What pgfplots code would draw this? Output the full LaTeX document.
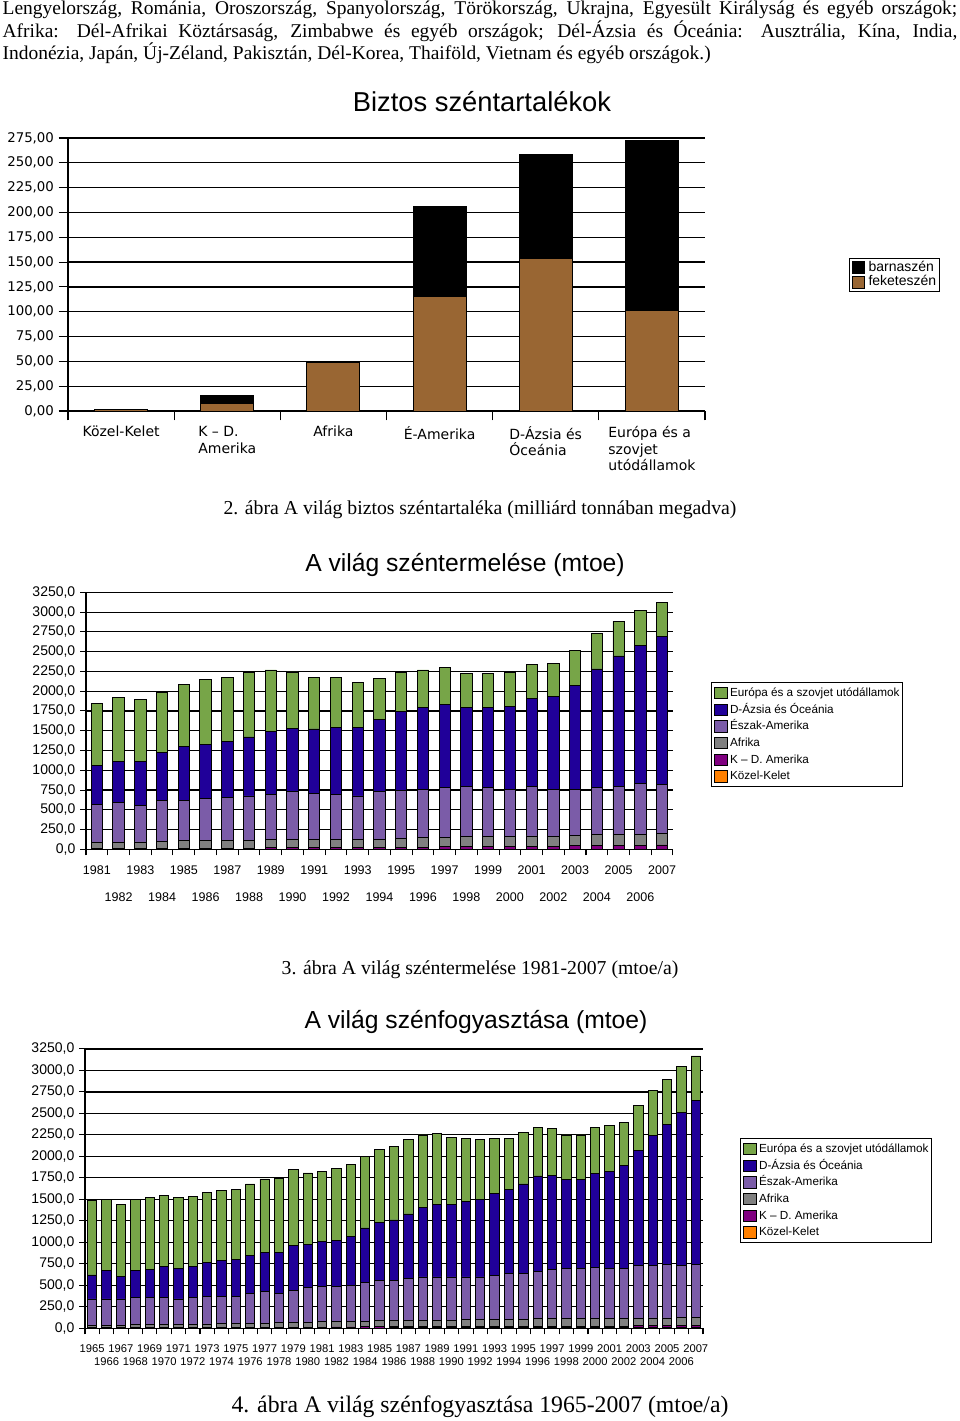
\documentclass[border=0pt]{standalone}
\usepackage{fontspec}
\setmainfont{Liberation Serif}
\newfontfamily\arial{Liberation Sans}
\newfontfamily\verd{DejaVu Sans}
\usepackage{pgfplots}
\usepackage{pgfplotstable}
\pgfplotsset{compat=1.18}
\pgfplotsset{/pgf/number format/assume math mode=true, /pgf/number format/1000 sep={}}
\definecolor{ceu}{RGB}{119,165,72}
\definecolor{cap}{RGB}{32,0,153}
\definecolor{cna}{RGB}{123,92,168}
\definecolor{caf}{RGB}{128,128,128}
\definecolor{ckd}{RGB}{128,0,128}
\definecolor{ckk}{RGB}{255,128,0}
\definecolor{cbrown}{RGB}{153,102,51}
\newcommand\loB[1]{\raisebox{-20.25pt}[\height][\depth]{#1}}
\newcommand\loC[1]{\raisebox{-9.75pt}[\height][\depth]{#1}}
\pgfplotsset{
  sqleg/.style={legend image code/.code={\draw[##1,draw=black,line width=0.5pt] (0pt,-4.25pt) rectangle (9.5pt,4.25pt);}},
  sqlegA/.style={legend image code/.code={\draw[##1,draw=black,line width=0.5pt] (0pt,-4.5pt) rectangle (9pt,4.5pt);}},
}

\pgfplotstableread{
idx fekete barna
0 1.4 0
1 7.2 8.6
2 48.5 0.5
3 115 91
4 153.5 104.5
5 101.6 171
}\tabres

\pgfplotstableread{
year KK KD AF NA AP EU
1981 1 8 72 488 493 780
1982 1 8 77 504 515 813
1983 1 9 83 459 553 792
1984 1 10 90 523 599 759
1985 1 12 99 512 675 788
1986 1 13 100 527 691 814
1987 1 14 100 538 713 809
1988 1 15 101 558 746 813
1989 1 17 101 577 792 780
1990 1 18 100 610 797 717
1991 1 19 101 587 814 653
1992 1 20 99 576 847 632
1993 1 21 103 550 868 565
1994 1 23 106 599 919 511
1995 1 25 115 601 999 493
1996 1 28 117 617 1029 476
1997 1 31 122 630 1042 472
1998 1 33 125 642 991 438
1999 1 34 125 624 1008 438
2000 1 38 127 597 1041 435
2001 1 40 128 632 1109 430
2002 1 39 125 598 1168 422
2003 1 43 135 584 1307 443
2004 1 47 139 593 1501 451
2005 1 50 139 611 1644 439
2006 1 52 139 643 1745 443
2007 1 54 142 629 1864 434
}\tabprod

\pgfplotstableread{
year KK KD AF NA AP EU
1965 1 5 29 306 279 869
1966 1 5 30 305 330 822
1967 1 5 31 304 260 842
1968 1 5 33 318 314 822
1969 1 6 34 316 329 834
1970 2 6 36 313 360 823
1971 2 6 38 295 357 822
1972 2 6 40 309 360 819
1973 2 7 41 322 392 818
1974 2 7 43 320 415 815
1975 2 7 45 318 423 818
1976 2 8 47 350 442 830
1977 2 8 50 363 457 857
1978 2 9 52 344 473 861
1979 2 9 55 372 520 884
1980 3 10 57 403 504 830
1981 3 11 60 411 523 815
1982 3 12 63 407 539 834
1983 3 12 66 419 570 834
1984 3 13 68 451 632 830
1985 3 14 71 463 678 853
1986 4 15 71 465 705 853
1987 4 15 73 490 748 865
1988 4 16 74 503 811 841
1989 4 16 75 502 846 826
1990 4 16 76 501 846 779
1991 4 16 77 500 873 737
1992 5 16 76 500 904 690
1993 5 17 77 514 954 640
1994 5 17 81 529 981 594
1995 5 18 83 526 1047 594
1996 5 19 86 553 1109 563
1997 6 20 85 572 1093 543
1998 6 20 84 584 1036 519
1999 6 19 85 588 1035 516
2000 6 20 86 594 1097 532
2001 6 20 86 586 1129 527
2002 7 19 87 581 1195 511
2003 7 20 90 612 1338 523
2004 7 21 92 609 1512 528
2005 8 21 91 617 1632 528
2006 9 21 91 608 1784 531
2007 9 22 92 614 1908 523
}\tabcons

\begin{document}
\begin{tikzpicture}
\path[use as bounding box] (0pt,0pt) rectangle (720pt,-1065.75pt);

% top text
\node[anchor=north, inner sep=0pt, text width=716pt, align=justify, font=\fontsize{14.6}{16.9}\selectfont] at (360pt,-0.5pt)
{Lengyelország, Románia, Oroszország, Spanyolország, Törökország, Ukrajna, Egyesült Királyság és egyéb országok;\linebreak
Afrika: Dél-Afrikai Köztársaság, Zimbabwe és egyéb országok; Dél-Ázsia és Óceánia: Ausztrália, Kína, India,\linebreak
Indonézia, Japán, Új-Zéland, Pakisztán, Dél-Korea, Thaiföld, Vietnam és egyéb országok.)};

% ---------- chart 1 ----------
\node[anchor=base, font=\arial\fontsize{20.5}{24}\selectfont] at (361.5pt,-83.25pt) {Biztos széntartalékok};
\begin{axis}[
  at={(51pt,-308.25pt)}, anchor=south west,
  scale only axis, width=477.75pt, height=204.75pt,
  ybar stacked, bar width=0.5,
  enlargelimits=false,
  xmin=-0.5, xmax=5.5, ymin=0, ymax=275,
  axis x line*=bottom, axis y line*=left,
  axis line style={-, line width=0.9pt},
  tick align=outside, major tick length=7pt,
  tick style={black, line width=0.8pt},
  ytick={0,25,...,275},
  ymajorgrids, grid style={black, line width=0.9pt},
  xtick={-0.5,0.5,...,5.5}, xticklabels={},
  extra x ticks={0,...,5},
  extra x tick labels={Közel-Kelet,{K – D.\\Amerika},Afrika,É-Amerika,{D-Ázsia és\\Óceánia},{Európa és a\\szovjet\\utódállamok}},
  extra x tick style={grid=none, major tick length=0pt},
  xticklabel style={font=\verd\fontsize{10.5}{12.6}\selectfont, align=left, yshift=-7.8pt},
  yticklabel style={font=\verd\fontsize{10}{12}\selectfont, /pgf/number format/.cd, fixed, fixed zerofill, precision=2, use comma, 1000 sep={}},
  reverse legend,
  legend cell align=left,
  legend style={at={(1.226,0.560)}, anchor=north west, draw=black, line width=0.75pt,
    font=\arial\fontsize{10.5}{12}\selectfont, inner xsep=2pt, inner ysep=1.5pt, row sep=0pt,
    nodes={inner sep=0.3pt, text height=7.6pt, text depth=2.6pt},
    /tikz/every odd column/.append style={column sep=2.5pt}},
  sqlegA,
]
\addplot[fill=cbrown, draw=black, line width=0.7pt, sqlegA] table[x=idx,y=fekete]{\tabres};
\addlegendentry{feketeszén}
\addplot[fill=black, draw=black, line width=0.7pt, sqlegA] table[x=idx,y=barna]{\tabres};
\addlegendentry{barnaszén}
\end{axis}
\node[anchor=base, font=\fontsize{14.8}{17}\selectfont] at (360pt,-385.5pt) {2. ábra A világ biztos széntartaléka (milliárd tonnában megadva)};

% ---------- chart 2 ----------
\node[anchor=base, font=\arial\fontsize{18.5}{22}\selectfont] at (348.75pt,-428.25pt) {A világ széntermelése (mtoe)};
\begin{axis}[
  at={(64.5pt,-637pt)}, anchor=south west,
  scale only axis, width=440.25pt, height=192.75pt,
  ybar stacked, bar width=0.52,
  enlargelimits=false,
  xmin=1980.5, xmax=2007.5, ymin=0, ymax=3250,
  axis x line*=bottom, axis y line*=left,
  axis line style={-, line width=0.9pt},
  tick align=outside, major tick length=4.5pt,
  tick style={black, line width=0.8pt},
  ytick={0,250,...,3250},
  ymajorgrids, grid style={black, line width=0.9pt},
  xtick={1980.5,1981.5,...,2007.5}, xticklabels={},
  extra x ticks={1981,...,2007},
  extra x tick labels={1981,\loB{1982},1983,\loB{1984},1985,\loB{1986},1987,\loB{1988},1989,\loB{1990},1991,\loB{1992},1993,\loB{1994},1995,\loB{1996},1997,\loB{1998},1999,\loB{2000},2001,\loB{2002},2003,\loB{2004},2005,\loB{2006},2007},
  extra x tick style={grid=none, major tick length=0pt},
  xticklabel style={font=\arial\fontsize{9.4}{11}\selectfont, yshift=-9.1pt},
  yticklabel style={font=\arial\fontsize{10.5}{12}\selectfont, /pgf/number format/.cd, fixed, fixed zerofill, precision=1, use comma, 1000 sep={}},
  reverse legend,
  legend cell align=left,
  legend style={at={(1.0647,0.651)}, anchor=north west, draw=black, line width=0.75pt,
    font=\arial\fontsize{8.8}{10}\selectfont, inner xsep=2pt, inner ysep=1.5pt, row sep=0pt,
    nodes={inner sep=0.4pt, text height=8.5pt, text depth=3.2pt},
    /tikz/every odd column/.append style={column sep=1.5pt}},
  sqleg,
]
\addplot[fill=ckk, draw=black, line width=0.7pt, sqleg] table[x=year,y=KK]{\tabprod};
\addlegendentry{Közel-Kelet}
\addplot[fill=ckd, draw=black, line width=0.7pt, sqleg] table[x=year,y=KD]{\tabprod};
\addlegendentry{K – D. Amerika}
\addplot[fill=caf, draw=black, line width=0.7pt, sqleg] table[x=year,y=AF]{\tabprod};
\addlegendentry{Afrika}
\addplot[fill=cna, draw=black, line width=0.7pt, sqleg] table[x=year,y=NA]{\tabprod};
\addlegendentry{Észak-Amerika}
\addplot[fill=cap, draw=black, line width=0.7pt, sqleg] table[x=year,y=AP]{\tabprod};
\addlegendentry{D-Ázsia és Óceánia}
\addplot[fill=ceu, draw=black, line width=0.7pt, sqleg] table[x=year,y=EU]{\tabprod};
\addlegendentry{Európa és a szovjet utódállamok}
\end{axis}
\node[anchor=base, font=\fontsize{14.8}{17}\selectfont] at (360pt,-730.5pt) {3. ábra A világ széntermelése 1981-2007 (mtoe/a)};

% ---------- chart 3 ----------
\node[anchor=base, font=\arial\fontsize{18.5}{22}\selectfont] at (357pt,-771pt) {A világ szénfogyasztása (mtoe)};
\begin{axis}[
  at={(63.75pt,-996.2pt)}, anchor=south west,
  scale only axis, width=463.5pt, height=209.5pt,
  ybar stacked, bar width=0.65,
  enlargelimits=false,
  xmin=1964.5, xmax=2007.5, ymin=0, ymax=3250,
  axis x line*=bottom, axis y line*=left,
  axis line style={-, line width=0.9pt},
  tick align=outside, major tick length=4.5pt,
  tick style={black, line width=0.8pt},
  ytick={0,250,...,3250},
  ymajorgrids, grid style={black, line width=0.9pt},
  xtick={1964.5,1965.5,...,2007.5}, xticklabels={},
  extra x ticks={1965,...,2007},
  extra x tick labels={1965,\loC{1966},1967,\loC{1968},1969,\loC{1970},1971,\loC{1972},1973,\loC{1974},1975,\loC{1976},1977,\loC{1978},1979,\loC{1980},1981,\loC{1982},1983,\loC{1984},1985,\loC{1986},1987,\loC{1988},1989,\loC{1990},1991,\loC{1992},1993,\loC{1994},1995,\loC{1996},1997,\loC{1998},1999,\loC{2000},2001,\loC{2002},2003,\loC{2004},2005,\loC{2006},2007},
  extra x tick style={grid=none, major tick length=0pt},
  xticklabel style={font=\arial\fontsize{8.4}{10}\selectfont, yshift=-9pt, inner xsep=0pt},
  yticklabel style={font=\arial\fontsize{10.5}{12}\selectfont, /pgf/number format/.cd, fixed, fixed zerofill, precision=1, use comma, 1000 sep={}},
  reverse legend,
  legend cell align=left,
  legend style={at={(1.0599,0.681)}, anchor=north west, draw=black, line width=0.75pt,
    font=\arial\fontsize{8.8}{10}\selectfont, inner xsep=2pt, inner ysep=1.5pt, row sep=0pt,
    nodes={inner sep=0.4pt, text height=8.5pt, text depth=3.2pt},
    /tikz/every odd column/.append style={column sep=1.5pt}},
  sqleg,
]
\addplot[fill=ckk, draw=black, line width=0.7pt, sqleg] table[x=year,y=KK]{\tabcons};
\addlegendentry{Közel-Kelet}
\addplot[fill=ckd, draw=black, line width=0.7pt, sqleg] table[x=year,y=KD]{\tabcons};
\addlegendentry{K – D. Amerika}
\addplot[fill=caf, draw=black, line width=0.7pt, sqleg] table[x=year,y=AF]{\tabcons};
\addlegendentry{Afrika}
\addplot[fill=cna, draw=black, line width=0.7pt, sqleg] table[x=year,y=NA]{\tabcons};
\addlegendentry{Észak-Amerika}
\addplot[fill=cap, draw=black, line width=0.7pt, sqleg] table[x=year,y=AP]{\tabcons};
\addlegendentry{D-Ázsia és Óceánia}
\addplot[fill=ceu, draw=black, line width=0.7pt, sqleg] table[x=year,y=EU]{\tabcons};
\addlegendentry{Európa és a szovjet utódállamok}
\end{axis}
\node[anchor=base, font=\fontsize{17.8}{20}\selectfont] at (360pt,-1059pt) {4. ábra A világ szénfogyasztása 1965-2007 (mtoe/a)};
\end{tikzpicture}
\end{document}
